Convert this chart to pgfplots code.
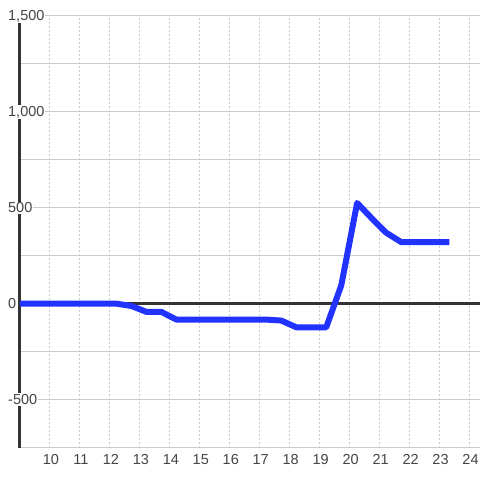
\documentclass[border=0pt]{standalone}
\usepackage{fontspec}
\setmainfont{Liberation Sans}
\usepackage{pgfplots}
\pgfplotsset{compat=1.18}
\definecolor{lineblue}{HTML}{2233FF}
\definecolor{axisdark}{HTML}{333333}
\definecolor{labelgray}{HTML}{444444}
\definecolor{gridgray}{HTML}{CCCCCC}

\begin{document}
\begin{tikzpicture}
\begin{axis}[
  set layers,
  at={(20bp,32bp)},anchor=south west,
  scale only axis,width=460bp,height=432bp,
  xmin=9,xmax=24.3333,ymin=-750,ymax=1500,
  axis line style={draw=none},
  xtick={10,...,24},
  ytick={-500,0,500,1000,1500},
  yticklabels={-500,0,500,{1,000},{1,500}},
  minor ytick={-750,-250,250,750,1250},
  /pgf/number format/assume math mode=true,
  xmajorgrids,ymajorgrids,yminorgrids,
  major x grid style={draw=gridgray,line width=1bp,dash pattern=on 2bp off 2bp},
  major y grid style={draw=gridgray,line width=1bp},
  minor y grid style={draw=gridgray,line width=1bp},
  major tick length=0pt,minor tick length=0pt,
  tick label style={font=\fontsize{14.5bp}{16bp}\selectfont,text=labelgray},
  yticklabel style={anchor=west,fill=white,inner sep=1bp,xshift=-13bp},
  xticklabel style={anchor=north,inner sep=0pt,yshift=-7bp,xshift=1bp},
]
\begin{pgfonlayer}{axis lines}
\draw[axisdark,line width=3bp] (axis cs:9,-750) -- (axis cs:9,1500);
\draw[axisdark,line width=3bp] (axis cs:9,0) -- (axis cs:24.3333,0);
\end{pgfonlayer}
\addplot[lineblue,line width=6bp,line cap=rect,line join=round] coordinates {
  (9,0) (12.22,0) (12.72,-12) (13.22,-43) (13.72,-43) (14.22,-83)
  (17.22,-83) (17.72,-88) (18.22,-123) (19.22,-123) (19.72,95)
  (20.25,525) (20.72,448) (21.22,370) (21.72,321) (23.23,321)
};
\end{axis}
\path (0,0) rectangle (480bp,480bp);
\end{tikzpicture}
\end{document}
